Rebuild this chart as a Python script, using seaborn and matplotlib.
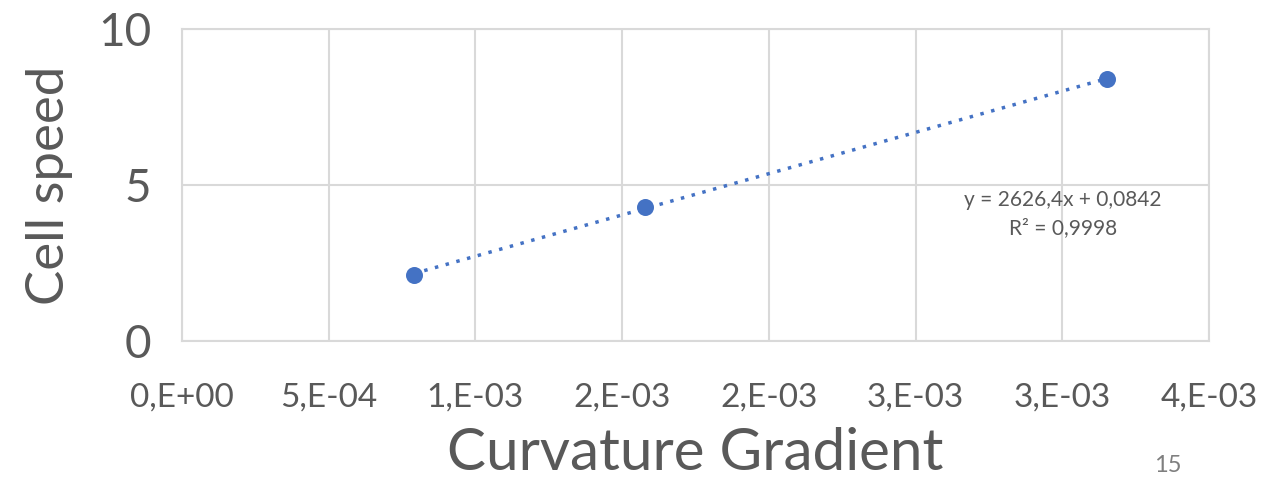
import matplotlib
matplotlib.use("Agg")
import matplotlib.pyplot as plt
import seaborn as sns
import pandas as pd
import numpy as np

# data
curvature_gradient = [0.000789, 0.001578, 0.003153]
cell_speed = [2.13, 4.29, 8.40]
x_ticks = [0.0, 0.0005, 0.0010, 0.0015, 0.0020, 0.0025, 0.0030, 0.0035]
x_tick_labels = ["0,E+00", "5,E-04", "1,E-03", "2,E-03", "2,E-03", "3,E-03", "3,E-03", "4,E-03"]
y_ticks = [0, 5, 10]
equation_text = "y = 2626,4x + 0,0842"
r2_text = "R² = 0,9998"
page_number = "15"

sns.set_theme(style="white")
plt.rcParams['font.family'] = ['Lato', 'DejaVu Sans']

df = pd.DataFrame({"x": curvature_gradient, "y": cell_speed})

fig = plt.figure(figsize=(12.86, 4.84), dpi=100)
ax_bottom, ax_top = 341, 29
ax = fig.add_axes([182/1286, 1 - ax_bottom/484, (1209-182)/1286, (ax_bottom-ax_top)/484])

blue = "#4472C4"
grid = "#D9D9D9"
txt = "#595959"

sns.regplot(data=df, x="x", y="y", ax=ax, ci=None, truncate=True,
            scatter_kws=dict(s=150, color=blue, alpha=1, zorder=3, linewidths=0),
            line_kws=dict(color=blue, linestyle=(0, (1, 2.2)), linewidth=2.5, zorder=2))

ax.set_xlim(0, 0.0035)
ax.set_ylim(0, 10)
ax.set_xticks(x_ticks)
ax.set_xticklabels(x_tick_labels)
ax.set_yticks(y_ticks)
ax.set_yticklabels([str(v) for v in y_ticks])
ax.grid(True, color=grid, linewidth=1.5)
ax.set_axisbelow(True)
for s in ax.spines.values():
    s.set_color(grid)
    s.set_linewidth(1.5)

ax.tick_params(axis='x', labelsize=24, colors=txt, pad=30, length=0)
ax.tick_params(axis='y', labelsize=33, colors=txt, pad=22, length=0)
ax.set_xlabel("Curvature Gradient", fontsize=42, color=txt, va="baseline")
ax.xaxis.set_label_coords(0.5, -(470 - ax_bottom) / (ax_bottom - ax_top))
ax.set_ylabel("Cell speed", fontsize=38, color=txt, labelpad=18)

ax.text(0.003003, 4.85, equation_text + "\n" + r2_text, ha="center", va="top",
        fontsize=15, color=txt, linespacing=1.5)

fig.text(1168/1286, 1 - 466/484, page_number, ha="center", va="center", fontsize=17, color="#7F7F7F")

fig.savefig("out.png", dpi=100)
